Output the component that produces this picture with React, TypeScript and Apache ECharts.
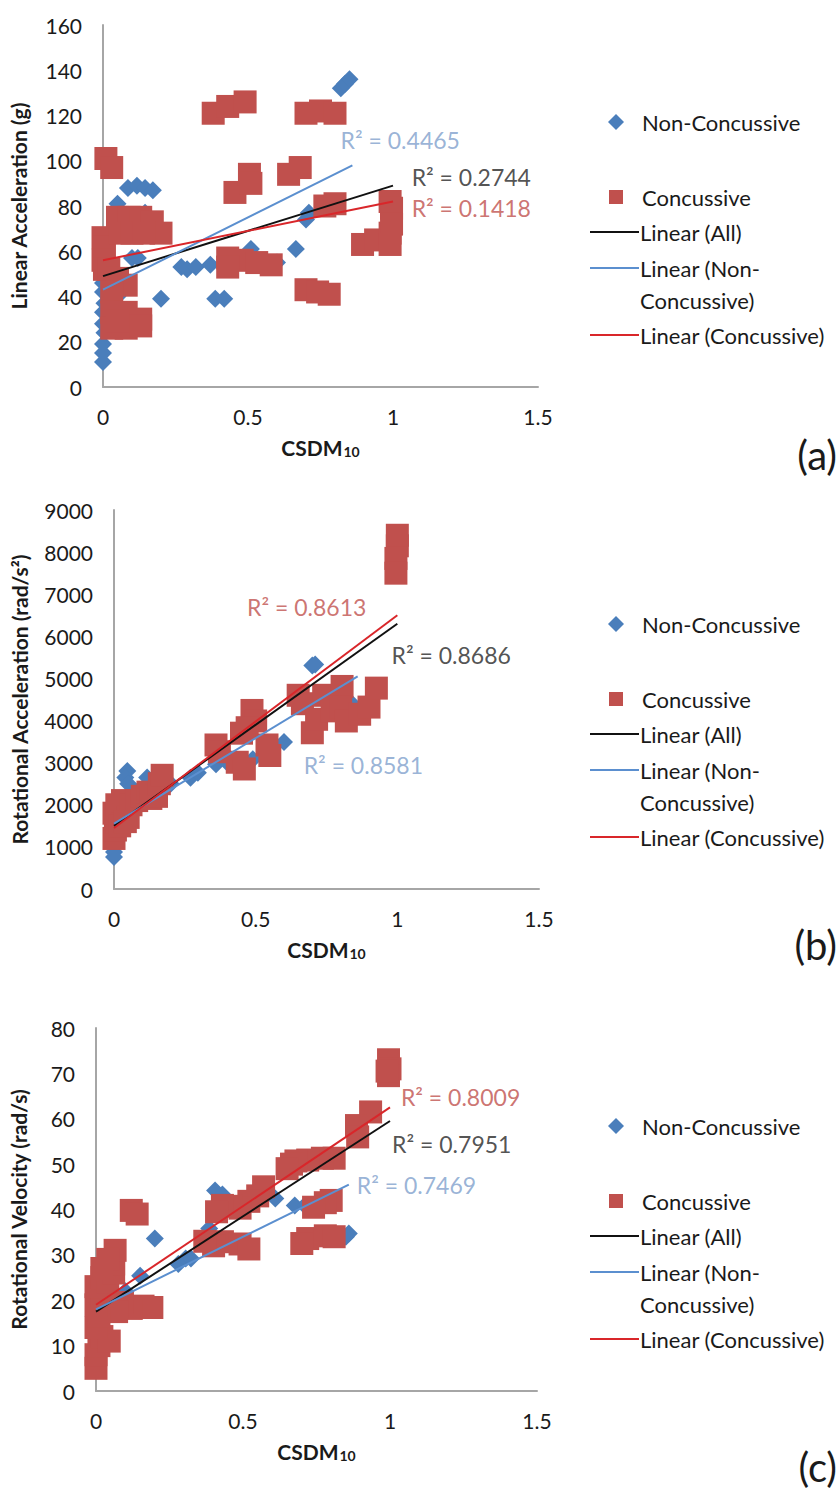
import React, { useEffect, useRef } from 'react';
import * as echarts from 'echarts';

const FONT = 'Lato, "Noto Sans", sans-serif';
const BLUE = '#4a7ebb';
const RED = '#c0504d';
const TREND_ALL = '#111111';
const TREND_NON = '#5b8fcf';
const TREND_CONC = '#d9262a';
const R2_NON = '#7f9fcc';
const R2_ALL = '#262626';
const R2_CONC = '#c0504d';

// x tick labels shared by all panels
const xTicks = [0, 0.5, 1, 1.5];

// ---------- Panel (a): Linear Acceleration ----------
const aNonConcussive: number[][] = [
  [0.0, 11], [0.0, 15], [0.0, 19], [0.005, 24], [0.0, 28], [0.0, 33], [0.005, 37], [0.0, 42], [0.0, 46],
  [0.03, 45], [0.05, 40], [0.05, 81], [0.1, 57], [0.12, 57], [0.086, 88], [0.117, 89], [0.145, 88], [0.172, 87],
  [0.145, 77], [0.2, 39], [0.27, 53], [0.29, 52], [0.32, 53], [0.37, 54], [0.387, 39], [0.418, 39],
  [0.51, 61], [0.6, 55], [0.665, 61], [0.70, 74], [0.71, 77], [0.82, 132], [0.835, 134], [0.85, 136],
];
const aConcussive: number[][] = [
  [0.01, 101], [0.03, 97], [0.0, 66], [0.005, 62], [0.0, 56], [0.005, 52], [0.02, 52], [0.05, 48], [0.08, 45],
  [0.03, 42], [0.03, 33], [0.08, 33], [0.13, 30], [0.03, 26], [0.08, 26], [0.13, 27], [0.05, 29],
  [0.05, 75], [0.09, 75], [0.13, 75], [0.17, 73], [0.2, 68], [0.06, 68], [0.1, 68], [0.14, 68],
  [0.38, 121], [0.43, 124], [0.49, 126], [0.70, 121], [0.75, 122], [0.80, 121],
  [0.455, 86], [0.505, 94], [0.51, 90], [0.64, 94], [0.68, 97],
  [0.43, 57], [0.48, 56], [0.53, 55], [0.58, 54], [0.43, 53],
  [0.70, 43], [0.74, 42], [0.78, 41], [0.765, 80], [0.80, 81],
  [0.99, 82], [0.995, 79], [0.895, 63], [0.94, 65], [0.99, 68], [0.995, 72], [0.99, 63],
];
const aTrendAll: number[][] = [[0, 49], [1, 89]];
const aTrendNon: number[][] = [[0, 43], [0.86, 98]];
const aTrendConc: number[][] = [[0, 56], [1, 82]];
const aR2: string[] = ['0.4465', '0.2744', '0.1418']; // non, all, conc

// ---------- Panel (b): Rotational Acceleration ----------
const bNonConcussive: number[][] = [
  [0.0, 760], [0.0, 880], [0.0, 1200], [0.01, 1500], [0.047, 2800], [0.04, 2650], [0.05, 2500],
  [0.117, 2650], [0.13, 2400], [0.02, 1900], [0.08, 2300], [0.2, 2500],
  [0.27, 2640], [0.296, 2760], [0.36, 2960], [0.4, 3000], [0.49, 3080], [0.55, 3300],
  [0.60, 3490], [0.70, 5310], [0.71, 5330], [0.82, 4280], [0.84, 4400],
];
const bConcussive: number[][] = [
  [0.0, 1200], [0.005, 1400], [0.01, 1600], [0.0, 1800], [0.01, 2000], [0.03, 1900], [0.03, 2100],
  [0.05, 1700], [0.06, 2000], [0.08, 2100], [0.1, 2200], [0.12, 2300], [0.13, 2150], [0.15, 2200],
  [0.16, 2500], [0.17, 2700], [0.02, 1500], [0.04, 1600],
  [0.36, 3420], [0.372, 3260], [0.435, 3010], [0.46, 2850], [0.487, 4240], [0.5, 3990], [0.47, 3830],
  [0.54, 3420], [0.55, 3170], [0.45, 3700],
  [0.65, 4600], [0.665, 4400], [0.70, 3710], [0.715, 4030], [0.74, 4600], [0.77, 4230], [0.805, 4810],
  [0.80, 4320], [0.82, 3990], [0.867, 4150], [0.90, 4320], [0.926, 4770],
  [1.0, 8400], [1.0, 8150], [0.995, 7850], [0.995, 7500],
];
const bTrendAll: number[][] = [[0, 1500], [1, 6300]];
const bTrendNon: number[][] = [[0, 1550], [0.86, 5050]];
const bTrendConc: number[][] = [[0, 1450], [1, 6500]];
const bR2: string[] = ['0.8581', '0.8686', '0.8613'];

// ---------- Panel (c): Rotational Velocity ----------
const cNonConcussive: number[][] = [
  [0.0, 19.8], [0.005, 19], [0.05, 20], [0.1, 22], [0.15, 25.4], [0.2, 33.6],
  [0.28, 28], [0.305, 29.2], [0.323, 29.2], [0.385, 35.8], [0.405, 44.2], [0.43, 43.3],
  [0.61, 42.4], [0.676, 40.9], [0.71, 40.9], [0.85, 34], [0.86, 34.7],
];
const cConcussive: number[][] = [
  [0.995, 73], [1.0, 71], [0.995, 69.5], [0.99, 70.5], [0.934, 61.5], [0.886, 58.5], [0.89, 56],
  [0.81, 51.3], [0.77, 51.3], [0.72, 50.9], [0.68, 50.7], [0.665, 50], [0.65, 49],
  [0.80, 42], [0.78, 41.5], [0.74, 40.5], [0.57, 45], [0.55, 43], [0.52, 41.8], [0.49, 40.3],
  [0.46, 40.7], [0.43, 40.9], [0.41, 39.5], [0.43, 32.9], [0.49, 32.4], [0.52, 31.3], [0.40, 32],
  [0.37, 33], [0.72, 33.6], [0.78, 34.2], [0.81, 34], [0.70, 32.5],
  [0.12, 39.8], [0.14, 39], [0.16, 18.7], [0.19, 18.4], [0.12, 18.2], [0.09, 19.5], [0.07, 17.5],
  [0.0, 5], [0.0, 8], [0.01, 10], [0.02, 12], [0.045, 11], [0.0, 14], [0.01, 16.5], [0.0, 19],
  [0.02, 21], [0.0, 23], [0.02, 25], [0.04, 24], [0.06, 26], [0.06, 28], [0.065, 31], [0.04, 29], [0.02, 27],
];
const cTrendAll: number[][] = [[0, 17.5], [1, 59.5]];
const cTrendNon: number[][] = [[0, 18], [0.86, 45.5]];
const cTrendConc: number[][] = [[0, 19], [1, 62.5]];
const cR2: string[] = ['0.7469', '0.7951', '0.8009'];

const legendNames = ['Non-Concussive', 'Concussive', 'Linear (All)', 'Linear (Non-', 'Concussive)', 'Linear (Concussive)'];

const panels = [
  {
    grid: { left: 103, top: 25, width: 435, height: 362 },
    yMax: 160, yInt: 20, yName: 'Linear Acceleration (g)', nameGap: 74, tagDy: 68,
    non: aNonConcussive, conc: aConcussive, tAll: aTrendAll, tNon: aTrendNon, tConc: aTrendConc, r2: aR2,
    r2At: [[1.025, 109], [1.27, 93], [1.27, 79]], tag: '(a)',
  },
  {
    grid: { left: 114, top: 510, width: 425, height: 379 },
    yMax: 9000, yInt: 1000, yName: 'Rotational Acceleration (rad/s\u00B2)', nameGap: 84, tagDy: 56,
    non: bNonConcussive, conc: bConcussive, tAll: bTrendAll, tNon: bTrendNon, tConc: bTrendConc, r2: bR2,
    r2At: [[0.88, 2950], [1.19, 5550], [0.68, 6700]], tag: '(b)',
  },
  {
    grid: { left: 93, top: 1028, width: 444, height: 363 },
    yMax: 80, yInt: 10, yName: 'Rotational Velocity (rad/s)', nameGap: 67, tagDy: 76,
    non: cNonConcussive, conc: cConcussive, tAll: cTrendAll, tNon: cTrendNon, tConc: cTrendConc, r2: cR2,
    r2At: [[1.09, 45.5], [1.21, 54.5], [1.24, 64.9]], tag: '(c)',
  },
];

function buildOption() {
  const grid: any[] = [];
  const xAxis: any[] = [];
  const yAxis: any[] = [];
  const series: any[] = [];
  const graphic: any[] = [];
  const axisLineStyle = { lineStyle: { color: '#a6a6a6', width: 2 } };

  panels.forEach((p, i) => {
    grid.push({ ...p.grid, containLabel: false });
    xAxis.push({
      type: 'value', gridIndex: i, min: xTicks[0], max: xTicks[xTicks.length - 1], interval: 0.5,
      axisLine: { show: true, onZero: false, ...axisLineStyle }, axisTick: { show: false }, splitLine: { show: false },
      axisLabel: {
        margin: 19, fontFamily: FONT, fontSize: 21, color: '#1a1a1a', showMinLabel: true, showMaxLabel: true,
        formatter: (v: number) => String(v),
      },
      name: '{b|CSDM}{s|10}', nameLocation: 'middle', nameGap: 45,
      nameTextStyle: {
        rich: {
          b: { fontFamily: FONT, fontWeight: 'bold', fontSize: 21, color: '#1a1a1a', lineHeight: 26, verticalAlign: 'bottom' },
          s: { fontFamily: FONT, fontWeight: 'bold', fontSize: 14, color: '#1a1a1a', lineHeight: 22, verticalAlign: 'bottom', padding: [0, 0, 0, 1] },
        },
      },
    });
    yAxis.push({
      type: 'value', gridIndex: i, min: 0, max: p.yMax, interval: p.yInt,
      axisLine: { show: true, ...axisLineStyle }, axisTick: { show: false }, splitLine: { show: false },
      axisLabel: {
        margin: 21, fontFamily: FONT, fontSize: 21, color: '#1a1a1a', showMinLabel: true, showMaxLabel: true,
        formatter: (v: number) => String(v),
      },
      name: p.yName, nameLocation: 'middle', nameRotate: 90, nameGap: p.nameGap,
      nameTextStyle: { fontFamily: FONT, fontWeight: 'bold', fontSize: 21, color: '#1a1a1a' },
    });
    series.push({
      type: 'scatter', name: 'Non-Concussive', xAxisIndex: i, yAxisIndex: i, data: p.non,
      symbol: 'diamond', symbolSize: 18, itemStyle: { color: BLUE, opacity: 1 }, z: 2,
    });
    series.push({
      type: 'scatter', name: 'Concussive', xAxisIndex: i, yAxisIndex: i, data: p.conc,
      symbol: 'rect', symbolSize: 23, itemStyle: { color: RED, opacity: 1 }, z: 3,
    });
    const lines = [
      { name: 'Linear (All)', data: p.tAll, color: TREND_ALL },
      { name: 'Linear (Non-Concussive)', data: p.tNon, color: TREND_NON },
      { name: 'Linear (Concussive)', data: p.tConc, color: TREND_CONC },
    ];
    lines.forEach((l, k) => {
      series.push({
        type: 'line', name: l.name, xAxisIndex: i, yAxisIndex: i, data: l.data, showSymbol: false, symbol: 'none',
        lineStyle: { color: l.color, width: 2 }, z: 4 + k, silent: true,
      });
    });
    const r2Colors = [R2_NON, R2_ALL, R2_CONC];
    p.r2.forEach((v, k) => {
      series.push({
        type: 'scatter', name: 'R2 ' + k, xAxisIndex: i, yAxisIndex: i, data: [p.r2At[k]],
        symbol: 'circle', symbolSize: 1, itemStyle: { color: 'rgba(0,0,0,0)' }, z: 10, silent: true,
        label: {
          show: true, position: 'inside', formatter: 'R\u00B2 = ' + v,
          fontFamily: FONT, fontSize: 23, color: r2Colors[k],
        },
      });
    });

    // Legend, drawn relative to the panel's x-axis baseline
    const base = p.grid.top + p.grid.height;
    const txtStyle = (text: string, y: number, x: number) => ({
      type: 'text', x, y, style: { text, fontFamily: FONT, fontSize: 22, fill: '#1a1a1a', verticalAlign: 'middle', align: 'left' },
    });
    const yNon = base - 265, yConc = base - 190, yAll = base - 155, yLNon = base - 119, yLNon2 = base - 87, yLConc = base - 52;
    graphic.push({ type: 'polygon', shape: { points: [[616, yNon - 8], [624, yNon], [616, yNon + 8], [608, yNon]] }, style: { fill: BLUE } });
    graphic.push(txtStyle(legendNames[0], yNon, 642));
    graphic.push({ type: 'rect', shape: { x: 609, y: yConc - 7, width: 14, height: 14 }, style: { fill: RED } });
    graphic.push(txtStyle(legendNames[1], yConc, 642));
    graphic.push({ type: 'line', shape: { x1: 590, y1: yAll, x2: 639, y2: yAll }, style: { stroke: TREND_ALL, lineWidth: 2 } });
    graphic.push(txtStyle(legendNames[2], yAll, 640));
    graphic.push({ type: 'line', shape: { x1: 590, y1: yLNon, x2: 639, y2: yLNon }, style: { stroke: TREND_NON, lineWidth: 2 } });
    graphic.push(txtStyle(legendNames[3], yLNon, 640));
    graphic.push(txtStyle(legendNames[4], yLNon2, 640));
    graphic.push({ type: 'line', shape: { x1: 590, y1: yLConc, x2: 639, y2: yLConc }, style: { stroke: TREND_CONC, lineWidth: 2 } });
    graphic.push(txtStyle(legendNames[5], yLConc, 640));
    graphic.push({
      type: 'text', x: 837, y: base + p.tagDy,
      style: { text: p.tag, fontFamily: FONT, fontSize: 40, fill: '#1a1a1a', align: 'right', verticalAlign: 'middle' },
    });
  });

  return {
    animation: false,
    backgroundColor: '#ffffff',
    textStyle: { fontFamily: FONT },
    grid, xAxis, yAxis, series, graphic,
  };
}

export default function App() {
  const ref = useRef<HTMLDivElement>(null);
  useEffect(() => {
    if (!ref.current) return;
    const chart = echarts.init(ref.current, undefined, { renderer: 'svg' });
    chart.setOption(buildOption() as any);
    return () => chart.dispose();
  }, []);
  return (
    <div
      ref={ref}
      style={{ position: 'absolute', left: 0, top: 0, width: 838, height: 1497, background: '#fff' }}
    />
  );
}
